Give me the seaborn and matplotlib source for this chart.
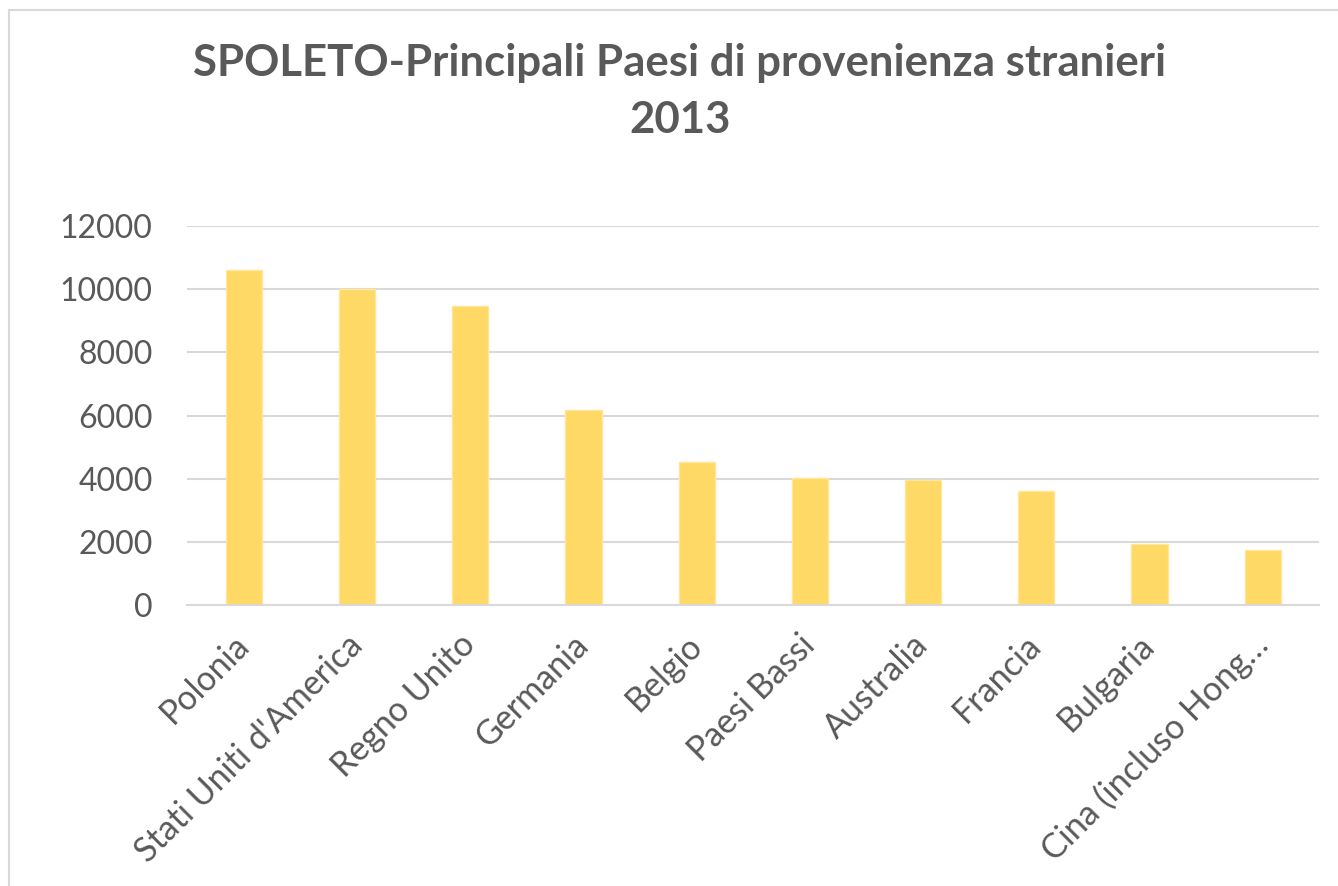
import pandas as pd
import matplotlib.pyplot as plt
import seaborn as sns
from matplotlib.patches import Rectangle

# Data
paesi = [
    "Polonia",
    "Stati Uniti d'America",
    "Regno Unito",
    "Germania",
    "Belgio",
    "Paesi Bassi",
    "Australia",
    "Francia",
    "Bulgaria",
    "Cina (incluso Hong\u2026",
]
stranieri = [10620, 10000, 9480, 6180, 4520, 4020, 3950, 3610, 1950, 1750]
y_ticks = [0, 2000, 4000, 6000, 8000, 10000, 12000]

df = pd.DataFrame({"Paese": paesi, "Stranieri": stranieri})

sns.set_style("white")
plt.rcParams['font.family'] = ['Lato', 'DejaVu Sans']

grey = "#595959"

fig = plt.figure(figsize=(13.38, 8.86), dpi=100)
# axes: left 187px, right 1319px, 0 at y=605, 12000 at y=226
ax = fig.add_axes([0.140, 0.317, 0.846, 0.428])

sns.barplot(
    data=df,
    x="Paese",
    y="Stranieri",
    color="#FFD966",
    saturation=1,
    width=0.32,
    edgecolor="#FFE699",
    linewidth=1,
    ax=ax,
)

ax.set_ylim(0, 12000)
ax.set_xlim(-0.5, len(paesi) - 0.5)
ax.set_yticks(y_ticks)
ax.set_yticklabels([str(v) for v in y_ticks])
ax.yaxis.grid(True, color="#D9D9D9", linewidth=1.5)
ax.set_axisbelow(True)

for side in ["top", "right", "left"]:
    ax.spines[side].set_visible(False)
ax.spines["bottom"].set_color("#D9D9D9")
ax.spines["bottom"].set_linewidth(1.5)

ax.tick_params(axis="y", length=0, pad=25, labelsize=23, labelcolor=grey)
ax.tick_params(axis="x", length=0, pad=25, labelsize=24.5, labelcolor=grey)
plt.setp(ax.get_xticklabels(), rotation=45, ha="right", va="center",
         rotation_mode="anchor")

ax.set_xlabel("")
ax.set_ylabel("")

fig.text(0.508, 0.897, "SPOLETO-Principali Paesi di provenienza stranieri\n2013",
         ha="center", va="center", fontsize=31.5, fontweight="bold",
         color=grey, linespacing=1.5)

# chart border
fig.patches.append(Rectangle((0.0067, -0.5), 1.5, 1.4887, transform=fig.transFigure,
                             fill=False, edgecolor="#D9D9D9", linewidth=1.5))

plt.savefig("out.png", dpi=100)
plt.close()
